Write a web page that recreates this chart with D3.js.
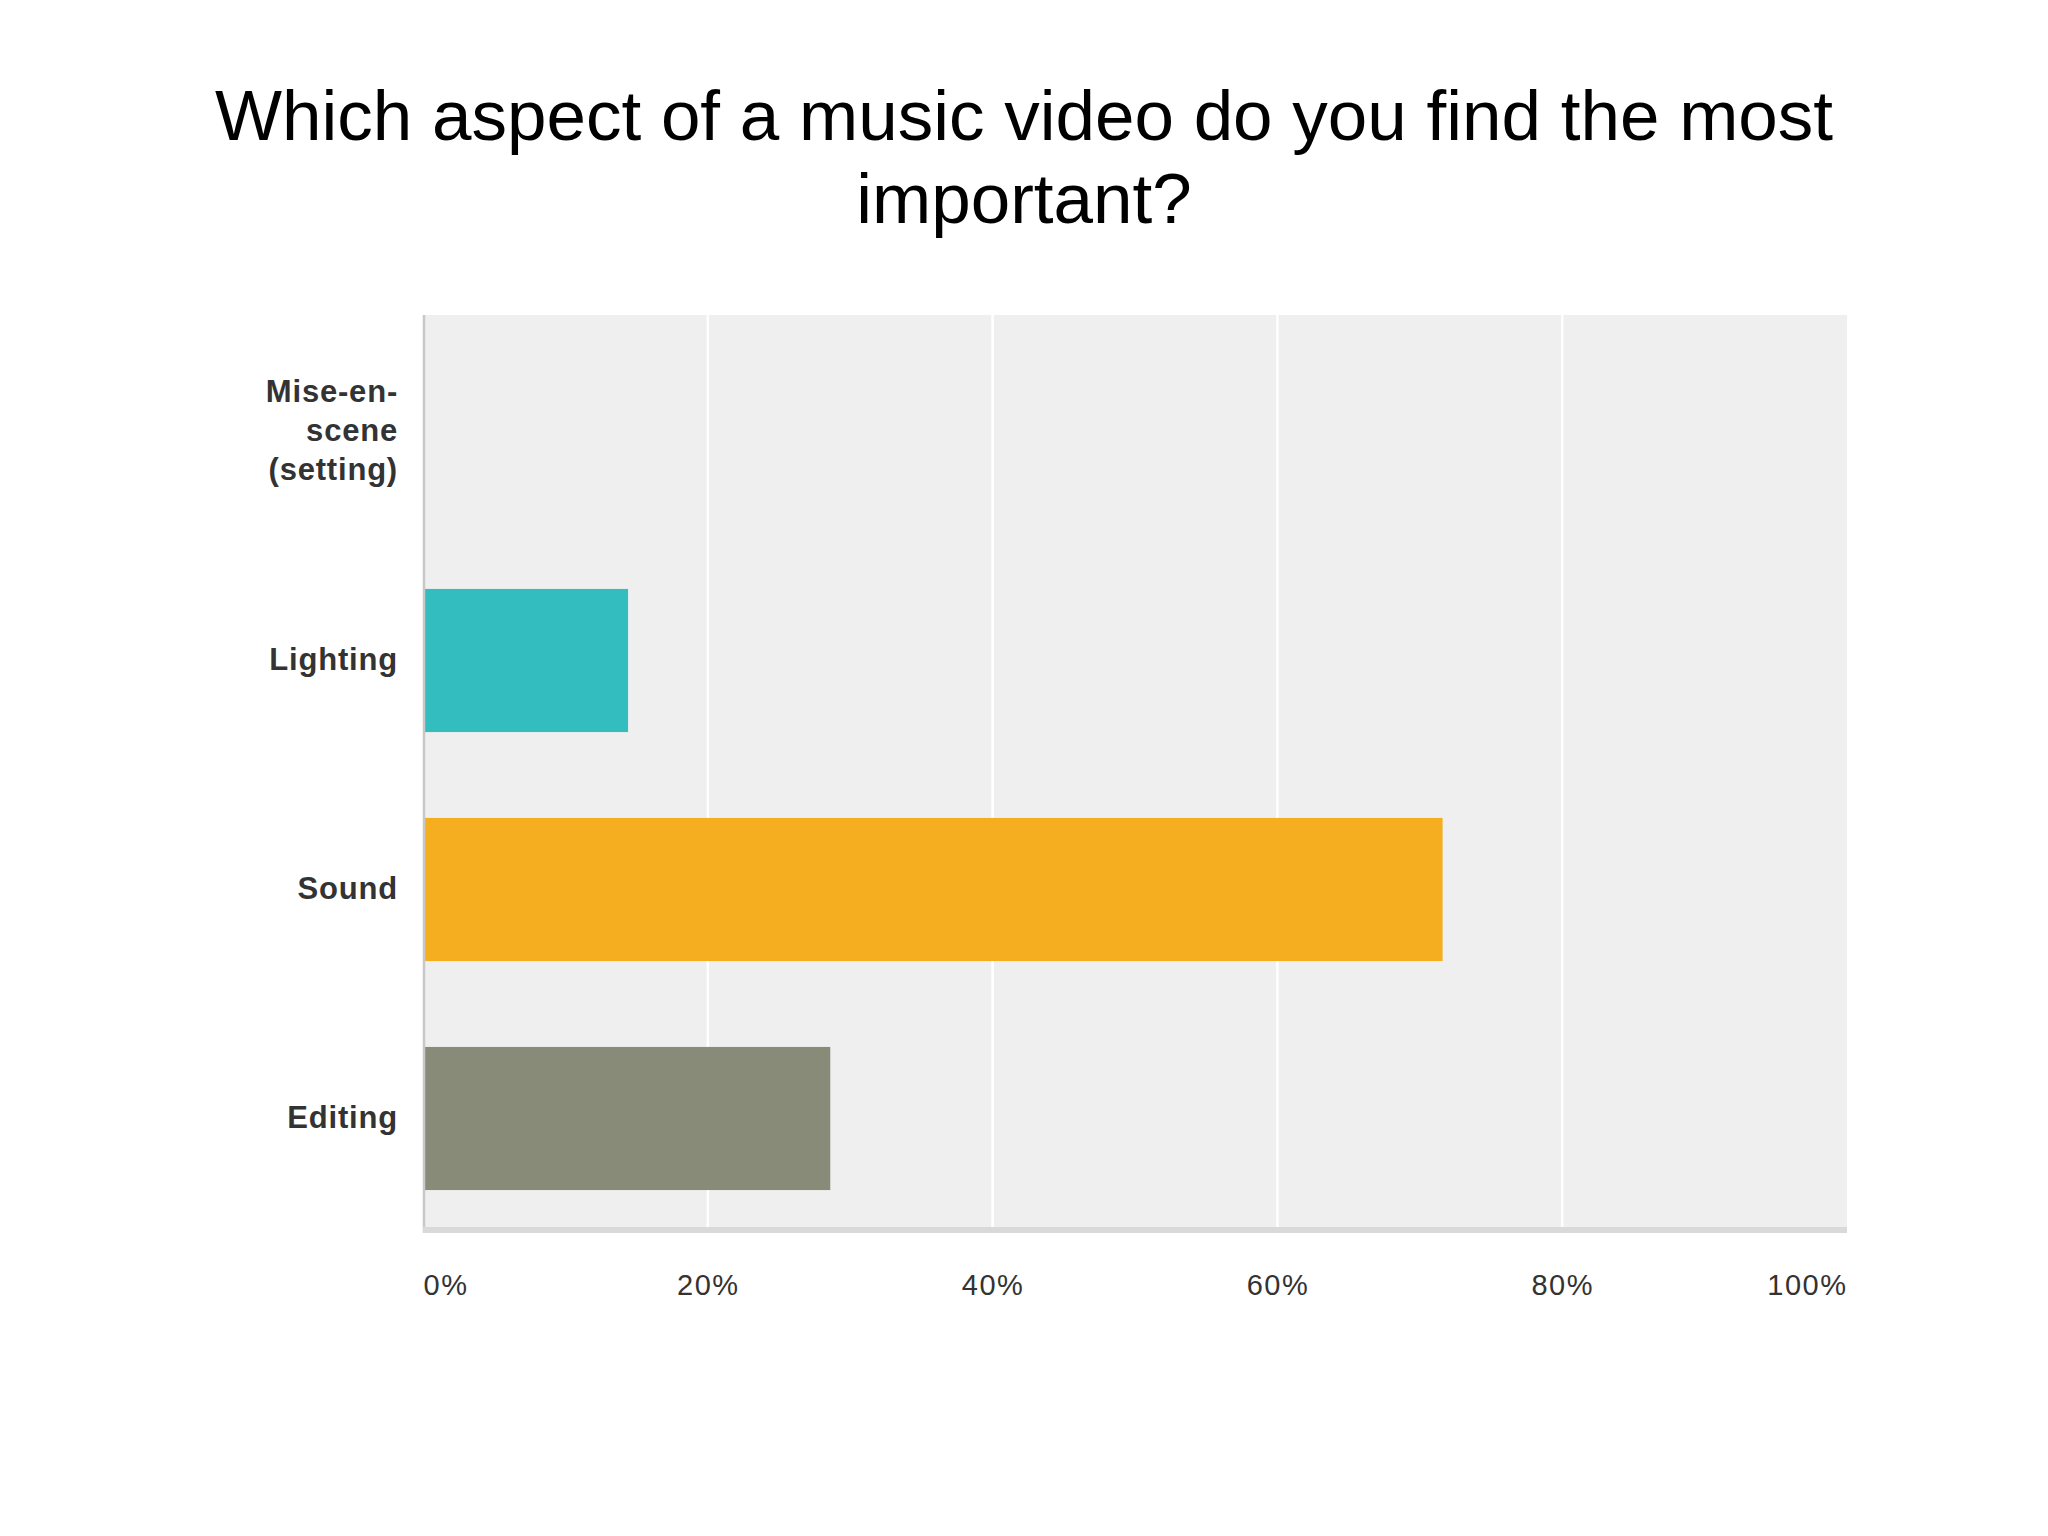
<!DOCTYPE html>
<html>
<head>
<meta charset="utf-8">
<script src="https://cdn.jsdelivr.net/npm/d3@7"></script>
<style>
  html, body { margin: 0; padding: 0; background: #ffffff; }
  svg { display: block; }
</style>
</head>
<body>
<script>
const titleLines = ["Which aspect of a music video do you find the most", "important?"];
const categories = ["Mise-en-scene (setting)", "Lighting", "Sound", "Editing"];
const categoryLabelLines = [["Mise-en-", "scene", "(setting)"], ["Lighting"], ["Sound"], ["Editing"]];
const values = [0, 14.4, 71.6, 28.6];
const barColors = ["#33bdbf", "#33bdbf", "#f5ae1f", "#898b79"];
const tickValues = [0, 20, 40, 60, 80, 100];
const tickLabels = ["0%", "20%", "40%", "60%", "80%", "100%"];

const W = 2048, H = 1536;
const svg = d3.select("body").append("svg").attr("width", W).attr("height", H);
svg.append("rect").attr("width", W).attr("height", H).attr("fill", "#ffffff");

const plot = { left: 423, right: 1847, top: 315, bottom: 1227 };

const x = d3.scaleLinear().domain([0, 100]).range([plot.left, plot.right]);
const y = d3.scaleBand().domain(categories).range([317, 1233]).paddingInner(0.375).paddingOuter(0.1875);

// Title
svg.append("g").selectAll("text").data(titleLines).join("text")
  .attr("x", 1024)
  .attr("y", (d, i) => 140 + i * 83)
  .attr("text-anchor", "middle")
  .attr("font-family", "'Liberation Sans', Arial, sans-serif")
  .attr("font-size", 71)
  .attr("fill", "#000000")
  .text(d => d);

// Plot background
svg.append("rect")
  .attr("x", plot.left).attr("y", plot.top)
  .attr("width", plot.right - plot.left).attr("height", plot.bottom - plot.top)
  .attr("fill", "#efefef");

// Gridlines
svg.append("g").selectAll("line").data(tickValues.filter(v => v > 0 && v < 100)).join("line")
  .attr("x1", d => x(d)).attr("x2", d => x(d))
  .attr("y1", plot.top).attr("y2", plot.bottom)
  .attr("stroke", "#ffffff").attr("stroke-width", 2.5);

// Bars
svg.append("g").selectAll("rect").data(categories).join("rect")
  .attr("x", x(0) + 1)
  .attr("y", d => y(d))
  .attr("width", (d, i) => Math.max(0, x(values[i]) - x(0) - 1))
  .attr("height", y.bandwidth())
  .attr("fill", (d, i) => barColors[i]);

// Left axis line
svg.append("line")
  .attr("x1", plot.left + 1).attr("x2", plot.left + 1)
  .attr("y1", plot.top).attr("y2", plot.bottom + 6)
  .attr("stroke", "#c8c8c8").attr("stroke-width", 2.5);

// Bottom axis band
svg.append("rect")
  .attr("x", plot.left).attr("y", plot.bottom)
  .attr("width", plot.right - plot.left).attr("height", 6)
  .attr("fill", "#d9d9d9");

// X axis tick labels via d3 axis
const xAxis = d3.axisBottom(x).tickValues(tickValues).tickSize(0).tickPadding(0)
  .tickFormat((d, i) => tickLabels[i]);
const gx = svg.append("g").attr("transform", `translate(0, 1295)`).call(xAxis);
gx.select(".domain").remove();
gx.selectAll("text")
  .attr("dy", null)
  .attr("y", 0)
  .attr("font-family", "'Liberation Sans', Arial, sans-serif")
  .attr("font-size", 29)
  .attr("letter-spacing", 1.5)
  .attr("fill", "#333333")
  .attr("text-anchor", (d, i) => i === 0 ? "start" : (i === tickValues.length - 1 ? "end" : "middle"));

// Category labels
const lineGap = 39;
const gy = svg.append("g");
categories.forEach((c, ci) => {
  const lines = categoryLabelLines[ci];
  const cy = y(c) + y.bandwidth() / 2;
  gy.append("text")
    .attr("text-anchor", "end")
    .attr("font-family", "'Liberation Sans', Arial, sans-serif")
    .attr("font-weight", "bold")
    .attr("font-size", 31)
    .attr("letter-spacing", 0.8)
    .attr("fill", "#333333")
    .selectAll("tspan").data(lines).join("tspan")
    .attr("x", 398)
    .attr("y", (d, i) => cy + 9 + (i - (lines.length - 1) / 2) * lineGap)
    .text(d => d);
});
</script>
</body>
</html>
